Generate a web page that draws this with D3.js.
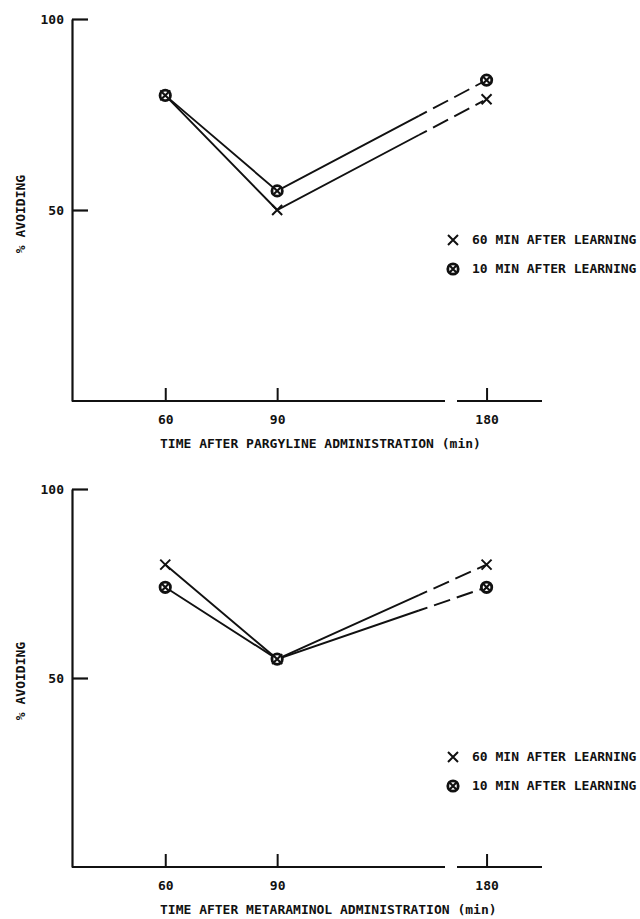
<!DOCTYPE html>
<html>
<head>
<meta charset="utf-8">
<script src="https://cdn.jsdelivr.net/npm/d3@7/dist/d3.min.js"></script>
<style>
  html, body { margin: 0; padding: 0; background: #fff; }
  svg text { font-family: "DejaVu Sans Mono", monospace; font-weight: bold; font-size: 13px; fill: #111; }
</style>
</head>
<body>
<svg id="chart" width="640" height="919"></svg>
<script>
// Time points (min after drug administration)
const times = [60, 90, 180];
const tickLabels = ["60", "90", "180"];
const yTicks = [50, 100];

// % avoiding, pargyline panel
const pargyline60 = [80, 50, 79];
const pargyline10 = [80, 55, 84];
// % avoiding, metaraminol panel
const metaraminol60 = [80, 55, 80];
const metaraminol10 = [74, 55, 74];

const seriesNames = ["60 MIN AFTER LEARNING", "10 MIN AFTER LEARNING"];
const yLabel = "% AVOIDING";
const xTitles = ["TIME AFTER PARGYLINE ADMINISTRATION (min)", "TIME AFTER METARAMINOL ADMINISTRATION (min)"];

const svg = d3.select("#chart");
const ink = "#111";

// Broken time axis: 35–135 min on the main segment, 172–195 after the break
const x = d3.scaleLinear().domain([35, 135, 172, 195]).range([72, 445, 457, 542]);
const breakAt = 135, resumeAt = 172, xStart = 35, xEnd = 195;
const dashFrom = 128; // lines turn dashed as they cross towards the break

function crossPath(s) {
  return `M${-s},${-s}L${s},${s}M${-s},${s}L${s},${-s}`;
}

function drawMarker(g, kind, cx, cy) {
  const m = g.append("g").attr("transform", `translate(${cx},${cy})`);
  if (kind === "x") {
    m.append("path").attr("d", crossPath(5)).attr("stroke", ink).attr("stroke-width", 2).attr("fill", "none");
  } else {
    m.append("circle").attr("r", 5.2).attr("fill", "#fff").attr("stroke", ink).attr("stroke-width", 2.8);
    m.append("path").attr("d", crossPath(3.2)).attr("stroke", ink).attr("stroke-width", 2.1).attr("fill", "none");
  }
}

function panel(cfg) {
  const y = d3.scaleLinear().domain([0, 100]).range([cfg.y0, cfg.y100]);
  const g = svg.append("g");

  // y axis with inward ticks
  const ya = g.append("g").attr("transform", `translate(${x(xStart)},0)`)
    .call(d3.axisLeft(y).tickValues(yTicks).tickSize(-16).tickSizeOuter(0).tickPadding(8).tickFormat(d3.format("d")));
  ya.selectAll("path, line").attr("stroke", ink).attr("stroke-width", 2.2);
  ya.selectAll("text").attr("font-family", null).attr("font-size", null).attr("fill", ink);

  // x axis with upward ticks, split at the break
  const xa = g.append("g").attr("transform", `translate(0,${y(0)})`)
    .call(d3.axisBottom(x).tickValues(times).tickSize(-13).tickSizeOuter(0).tickPadding(14)
      .tickFormat((d, i) => tickLabels[i]));
  xa.select(".domain").remove();
  xa.selectAll("line").attr("stroke", ink).attr("stroke-width", 2);
  xa.selectAll("text").attr("font-family", null).attr("font-size", null).attr("fill", ink);
  [[xStart, breakAt], [resumeAt, xEnd]].forEach(([a, b]) => {
    g.append("line").attr("x1", x(a)).attr("x2", x(b)).attr("y1", y(0)).attr("y2", y(0))
      .attr("stroke", ink).attr("stroke-width", 2.2);
  });

  // axis titles
  g.append("text").attr("transform", `translate(${cfg.yLabelX},${cfg.yLabelY}) rotate(-90)`)
    .attr("text-anchor", "middle").attr("dominant-baseline", "middle").text(yLabel);
  g.append("text").attr("x", 160).attr("y", y(0) + 43).attr("dominant-baseline", "middle").text(cfg.title);

  // series lines: solid 60→90 and 90→dashFrom, dashed the rest of the way to 180
  const line = d3.line().x(d => d[0]).y(d => d[1]);
  cfg.series.forEach(s => {
    const pts = times.map((t, i) => [x(t), y(s.values[i])]);
    const p1 = pts[1], p2 = pts[2];
    const t = (x(dashFrom) - p1[0]) / (p2[0] - p1[0]);
    const mid = [p1[0] + t * (p2[0] - p1[0]), p1[1] + t * (p2[1] - p1[1])];
    g.append("path").attr("d", line([pts[0], p1, mid])).attr("fill", "none")
      .attr("stroke", ink).attr("stroke-width", 1.9).attr("stroke-linejoin", "miter");
    g.append("path").attr("d", line([mid, p2])).attr("fill", "none")
      .attr("stroke", ink).attr("stroke-width", 1.9).attr("stroke-dasharray", "9,7,17,7,17,7");
  });
  cfg.series.forEach(s => {
    times.forEach((tv, i) => drawMarker(g, s.kind, x(tv), y(s.values[i])));
  });

  // legend
  cfg.series.forEach((s, i) => {
    const ly = cfg.legendY + i * 29;
    drawMarker(g, s.kind, 453, ly);
    g.append("text").attr("x", 472).attr("y", ly).attr("dominant-baseline", "middle").text(seriesNames[i]);
  });
}

panel({
  y0: 401, y100: 19, yLabelX: 21, yLabelY: 214, legendY: 240,
  title: xTitles[0],
  series: [{ kind: "x", values: pargyline60 }, { kind: "o", values: pargyline10 }]
});
panel({
  y0: 867, y100: 489, yLabelX: 21, yLabelY: 681, legendY: 757,
  title: xTitles[1],
  series: [{ kind: "x", values: metaraminol60 }, { kind: "o", values: metaraminol10 }]
});
</script>
</body>
</html>
